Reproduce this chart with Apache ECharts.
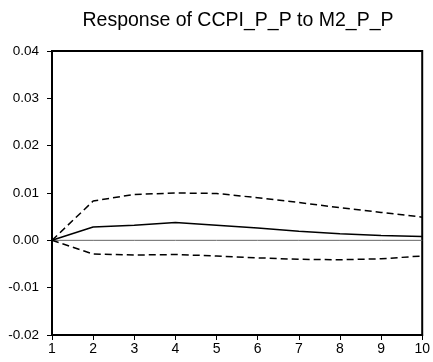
<!DOCTYPE html>
<html>
<head>
<meta charset="utf-8">
<script src="https://cdn.jsdelivr.net/npm/echarts@6/dist/echarts.min.js"></script>
<style>html,body{margin:0;padding:0;background:#fff;}#c{width:433px;height:362px;}</style>
</head>
<body>
<div id="c"></div>
<script>
var periods = [1, 2, 3, 4, 5, 6, 7, 8, 9, 10];
var response = [0, 0.0028, 0.0032, 0.00375, 0.0032, 0.0026, 0.0019, 0.0014, 0.0010, 0.0008];
var upperBand = [0, 0.0083, 0.0097, 0.0100, 0.0099, 0.0090, 0.0080, 0.0069, 0.0059, 0.0049];
var lowerBand = [0, -0.0029, -0.0031, -0.0030, -0.0033, -0.0037, -0.0040, -0.0041, -0.0039, -0.0033];
var zeroLine = [0, 0, 0, 0, 0, 0, 0, 0, 0, 0];
var titleText = 'Response of CCPI_P_P to M2_P_P';

function pairs(arr) { return periods.map(function (p, i) { return [p, arr[i]]; }); }

var chart = echarts.init(document.getElementById('c'), null, { renderer: 'canvas' });
var font = 'Arial, "Liberation Sans", sans-serif';
chart.setOption({
  animation: false,
  backgroundColor: '#fff',
  title: {
    text: titleText, left: 233, top: 6, textAlign: 'center',
    textStyle: { fontFamily: font, fontSize: 19.5, fontWeight: 'normal', color: '#000' }
  },
  grid: { left: 52, right: 10, top: 51, bottom: 27, show: true, borderColor: '#000', borderWidth: 2, backgroundColor: 'transparent' },
  xAxis: {
    type: 'value', min: 1, max: 10, interval: 1,
    axisLine: { show: true, onZero: false, lineStyle: { color: '#000', width: 2 } },
    axisTick: { show: true, inside: false, length: 5, lineStyle: { color: '#000', width: 1 } },
    axisLabel: { fontFamily: font, fontSize: 14, color: '#000', margin: 7 },
    splitLine: { show: false }
  },
  yAxis: {
    type: 'value', min: -0.02, max: 0.04, interval: 0.01,
    axisLine: { show: true, onZero: false, lineStyle: { color: '#000', width: 2 } },
    axisTick: { show: true, inside: false, length: 5, lineStyle: { color: '#000', width: 1 } },
    axisLabel: { fontFamily: font, fontSize: 13.5, color: '#000', margin: 13, formatter: function (v) { return v.toFixed(2); } },
    splitLine: { show: false }
  },
  series: [
    { type: 'line', data: pairs(zeroLine), symbol: 'none', silent: true, lineStyle: { color: '#666', width: 1 } },
    { type: 'line', data: pairs(upperBand), symbol: 'none', lineStyle: { color: '#000', width: 1.5, type: [7, 4] } },
    { type: 'line', data: pairs(lowerBand), symbol: 'none', lineStyle: { color: '#000', width: 1.5, type: [7, 4] } },
    { type: 'line', data: pairs(response), symbol: 'none', lineStyle: { color: '#000', width: 1.5 } }
  ]
});
</script>
</body>
</html>
